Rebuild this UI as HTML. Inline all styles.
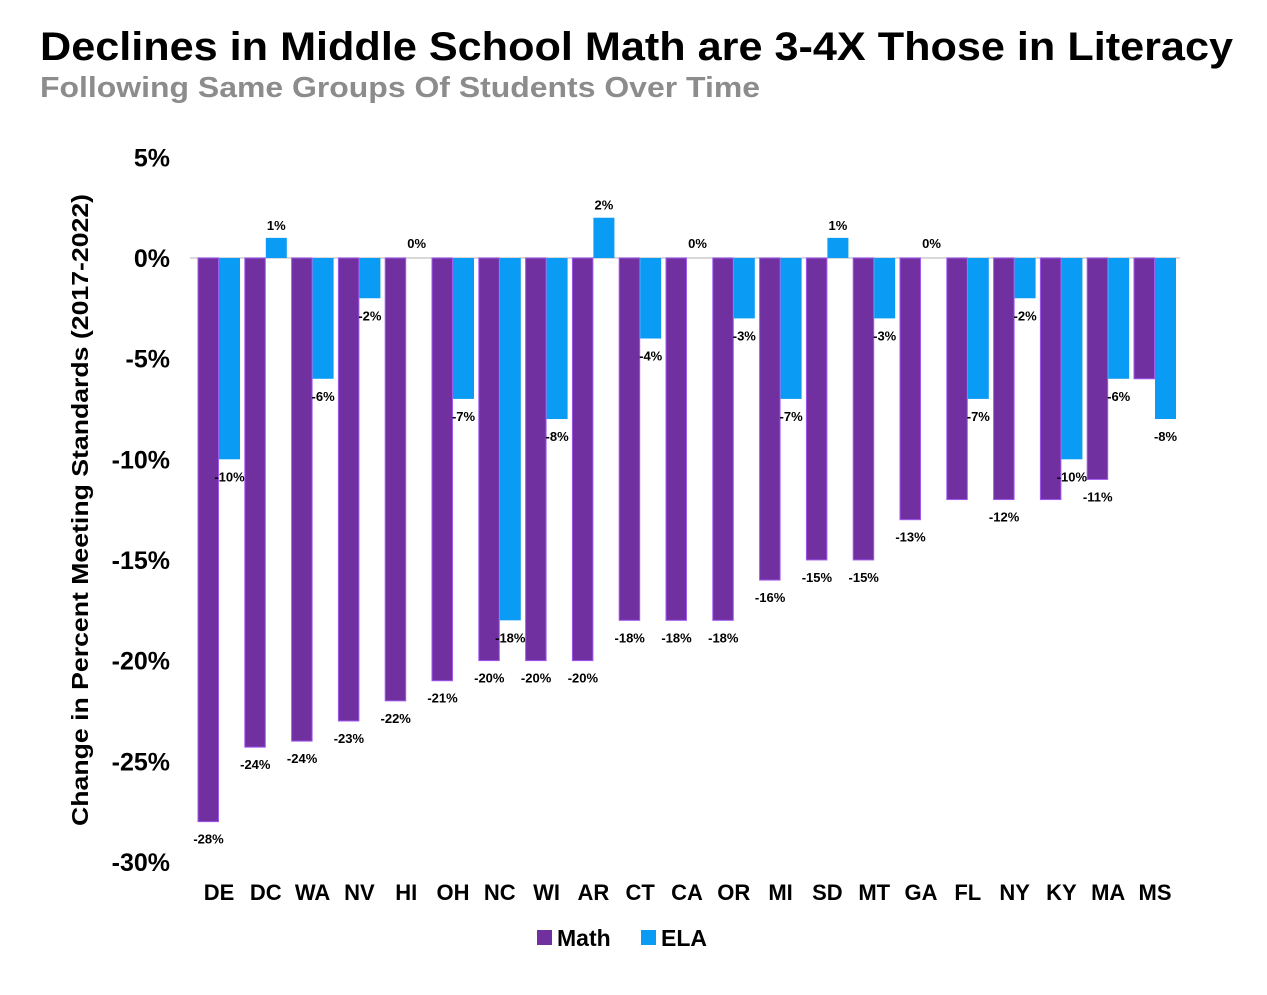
<!DOCTYPE html>
<html><head><meta charset="utf-8"><style>
body{margin:0;background:#fff;}
svg text{font-family:"Liberation Sans",sans-serif;font-weight:bold;}
</style></head><body>
<svg id="chart" width="1267" height="990">
<text x="40" y="60" font-size="40" textLength="1193" lengthAdjust="spacingAndGlyphs" fill="#000">Declines in Middle School Math are 3-4X Those in Literacy</text>
<text x="40" y="97" font-size="29" textLength="720" lengthAdjust="spacingAndGlyphs" fill="#8c8c8c">Following Same Groups Of Students Over Time</text>
<text transform="translate(88,510) rotate(-90)" text-anchor="middle" font-size="23" textLength="632" lengthAdjust="spacingAndGlyphs">Change in Percent Meeting Standards (2017-2022)</text>
<g id="yticks"></g><g id="bars"></g><g id="xlabels"></g>
<g>
<rect x="537" y="930" width="15" height="15" fill="#7030A0"/>
<text x="557" y="946" font-size="23">Math</text>
<rect x="641" y="930" width="15" height="15" fill="#0A9BF5"/>
<text x="661" y="946" font-size="23">ELA</text>
</g>
</svg>
<script>
const categories=["DE","DC","WA","NV","HI","OH","NC","WI","AR","CT","CA","OR","MI","SD","MT","GA","FL","NY","KY","MA","MS"];
const mathValues=[-28,-24.3,-24,-23,-22,-21,-20,-20,-20,-18,-18,-18,-16,-15,-15,-13,-12,-12,-12,-11,-6];
const mathLabels=["-28%","-24%","-24%","-23%","-22%","-21%","-20%","-20%","-20%","-18%","-18%","-18%","-16%","-15%","-15%","-13%","","-12%","","-11%",""];
const elaValues=[-10,1,-6,-2,0,-7,-18,-8,2,-4,0,-3,-7,1,-3,0,-7,-2,-10,-6,-8];
const yTicks=[5,0,-5,-10,-15,-20,-25,-30];
const NS="http://www.w3.org/2000/svg";
const y=v=>258-v*20.13;
const xc=i=>219+i*46.8;
function mk(t,a,p){const e=document.createElementNS(NS,t);for(const k in a)e.setAttribute(k,a[k]);p.appendChild(e);return e;}
const yt=document.getElementById('yticks'),bars=document.getElementById('bars'),xl=document.getElementById('xlabels');
yTicks.forEach(v=>{const t=mk('text',{x:170,y:y(v)+9,'text-anchor':'end','font-size':25},yt);t.textContent=v+'%';

});
const zl=mk('line',{x1:190,x2:1180,y1:258,y2:258,stroke:'#d9d9d9','stroke-width':2},bars);


categories.forEach((c,i)=>{
 const cx=xc(i);
 const m=mathValues[i];
 const r=mk('rect',{x:cx-21,y:Math.min(y(0),y(m)),width:20.5,height:Math.abs(y(m)-y(0)),fill:'#7030A0',stroke:'#A259F0','stroke-width':1},bars);
 
 
 if(mathLabels[i]){
 const ml=mk('text',{x:cx-10.5,y:y(m)+22,'text-anchor':'middle','font-size':13},bars);ml.textContent=mathLabels[i];
 
 }
 const e=elaValues[i];
 if(e!==0){const b=mk('rect',{x:cx,y:Math.min(y(0),y(e)),width:21,height:Math.abs(y(e)-y(0)),fill:'#0A9BF5'},bars);
 
 }
 const ly=e>0?y(e)-8:(e===0?y(0)-10:y(e)+22);
 const el=mk('text',{x:cx+10.5,y:ly,'text-anchor':'middle','font-size':13},bars);el.textContent=Math.round(e)+'%';
 
 
 const xt=mk('text',{x:cx,y:900,'text-anchor':'middle','font-size':22},xl);xt.textContent=c;
 
 
});
</script>
</body></html>
